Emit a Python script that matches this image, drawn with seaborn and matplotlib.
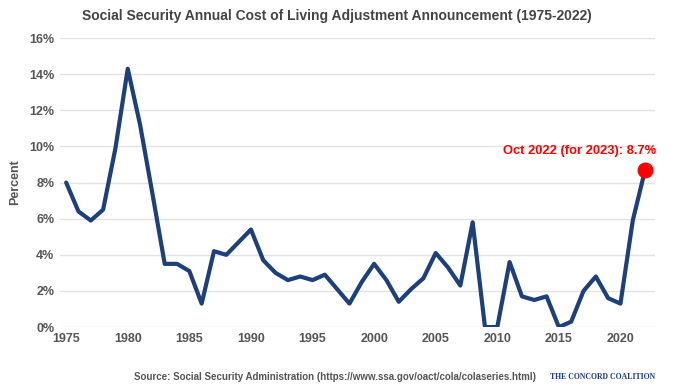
import pandas as pd
import matplotlib.pyplot as plt
import seaborn as sns
from matplotlib.ticker import PercentFormatter

# Social Security COLA by announcement year
years = list(range(1975, 2023))
cola = [8.0, 6.4, 5.9, 6.5, 9.9, 14.3, 11.2, 7.4, 3.5, 3.5,
        3.1, 1.3, 4.2, 4.0, 4.7, 5.4, 3.7, 3.0, 2.6, 2.8,
        2.6, 2.9, 2.1, 1.3, 2.5, 3.5, 2.6, 1.4, 2.1, 2.7,
        4.1, 3.3, 2.3, 5.8, 0.0, 0.0, 3.6, 1.7, 1.5, 1.7,
        0.0, 0.3, 2.0, 2.8, 1.6, 1.3, 5.9, 8.7]
x_ticks = [1975, 1980, 1985, 1990, 1995, 2000, 2005, 2010, 2015, 2020]
y_ticks = [0, 2, 4, 6, 8, 10, 12, 14, 16]
callout = "Oct 2022 (for 2023): 8.7%"

df = pd.DataFrame({"year": years, "cola": cola})

sns.set_style("white")
plt.rcParams["font.family"] = ["Liberation Sans", "DejaVu Sans"]

GRAY = "#555555"
NAVY = "#1d3f7c"

fig = plt.figure(figsize=(6.78, 3.88), dpi=100)
ax = fig.add_axes([0.0885, 0.157, 0.8775, 0.745])

sns.lineplot(data=df, x="year", y="cola", ax=ax, color=NAVY, linewidth=3,
             solid_joinstyle="round")
last = df.iloc[-1]
ax.scatter([last["year"]], [last["cola"]], s=110, color="#ff0000", zorder=5)
ax.annotate(callout, (last["year"], last["cola"]), xytext=(-47, 9),
            textcoords="offset points", ha="center", va="bottom",
            color="#ff0000", fontsize=9.3, fontweight="bold")

ax.set_xlim(1974.5, 2022.8)
ax.set_ylim(0, 16)
ax.set_xticks(x_ticks)
ax.set_yticks(y_ticks)
ax.yaxis.set_major_formatter(PercentFormatter(decimals=0))
ax.grid(axis="y", color="#e3e3e3", linewidth=1)
for s in ax.spines.values():
    s.set_visible(False)
ax.tick_params(length=0, labelsize=9, labelcolor=GRAY, pad=4)
for lab in ax.get_xticklabels() + ax.get_yticklabels():
    lab.set_fontweight("bold")
ax.set_xlabel("")
ax.set_ylabel("Percent", fontsize=9, fontweight="bold", color=GRAY, labelpad=6)

fig.text(0.497, 0.958, "Social Security Annual Cost of Living Adjustment Announcement (1975-2022)",
         ha="center", va="center", fontsize=10, fontweight="bold", color="#444444")
fig.text(0.494, 0.028, "Source: Social Security Administration (https://www.ssa.gov/oact/cola/colaseries.html)",
         ha="center", va="center", fontsize=7, fontweight="bold", color=GRAY)
fig.text(0.888, 0.028, "THE CONCORD COALITION", ha="center", va="center",
         fontsize=5.6, fontweight="bold", color="#1d3f8c", family=["Liberation Serif", "DejaVu Serif"])

fig.savefig("out.png", dpi=100)
